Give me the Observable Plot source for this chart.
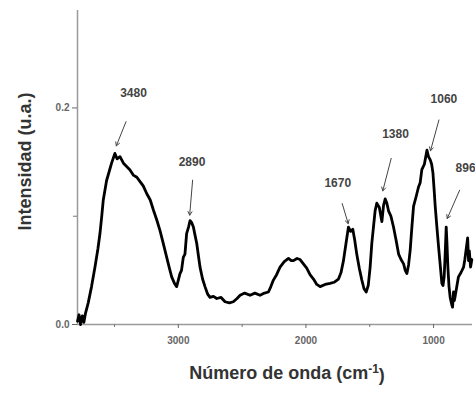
<!DOCTYPE html>
<html><head><meta charset="utf-8">
<script src="https://cdn.jsdelivr.net/npm/d3@7"></script>
<script src="https://cdn.jsdelivr.net/npm/@observablehq/plot@0.6"></script>
<style>body{margin:0;overflow:hidden;background:#fff}</style>
</head><body><div id="chart"></div>
<script>
// Spectrum (wavenumber cm-1, intensity u.a.)
const wavenumber = [3790,3778,3766,3752,3740,3728,3706,3680,3653,3630,3614,3600,3588,3562,3540,3523,3497,3480,3457,3430,3405,3380,3353,3325,3300,3275,3248,3220,3196,3170,3144,3118,3091,3070,3052,3030,3013,3000,2987,2975,2961,2948,2935,2920,2908,2895,2882,2870,2856,2843,2830,2810,2791,2770,2752,2725,2699,2665,2634,2600,2569,2540,2516,2480,2438,2400,2360,2325,2294,2275,2255,2230,2203,2170,2137,2115,2098,2070,2046,2020,1994,1968,1941,1915,1889,1850,1811,1780,1745,1725,1706,1686,1667,1650,1633,1618,1602,1582,1562,1545,1528,1512,1497,1484,1471,1458,1445,1425,1405,1392,1379,1366,1353,1334,1314,1294,1274,1255,1235,1222,1209,1196,1183,1170,1157,1137,1118,1105,1092,1072,1052,1040,1026,1015,1005,996,987,974,961,948,935,926,917,909,901,895,888,879,870,857,851,844,838,831,818,805,785,765,755,744,733,726,720,710,700];
const intensity = [0.003,0.009,0.000,0.008,0.002,0.010,0.020,0.035,0.053,0.070,0.084,0.100,0.115,0.133,0.142,0.149,0.158,0.153,0.155,0.149,0.146,0.143,0.138,0.136,0.132,0.128,0.121,0.115,0.106,0.097,0.087,0.075,0.062,0.052,0.044,0.038,0.035,0.041,0.047,0.050,0.062,0.065,0.084,0.090,0.096,0.094,0.090,0.083,0.075,0.064,0.053,0.042,0.035,0.028,0.025,0.026,0.024,0.025,0.021,0.020,0.021,0.024,0.027,0.029,0.027,0.029,0.027,0.029,0.030,0.035,0.041,0.046,0.053,0.058,0.061,0.059,0.059,0.061,0.060,0.056,0.052,0.046,0.042,0.037,0.035,0.037,0.038,0.039,0.042,0.048,0.059,0.075,0.090,0.086,0.088,0.078,0.065,0.052,0.041,0.033,0.030,0.036,0.053,0.075,0.090,0.105,0.112,0.108,0.095,0.110,0.116,0.112,0.105,0.100,0.090,0.078,0.065,0.060,0.056,0.050,0.047,0.055,0.069,0.090,0.109,0.118,0.127,0.131,0.143,0.148,0.161,0.155,0.152,0.148,0.140,0.125,0.109,0.090,0.072,0.055,0.038,0.036,0.044,0.065,0.090,0.075,0.053,0.035,0.025,0.018,0.016,0.030,0.022,0.026,0.035,0.044,0.048,0.053,0.060,0.070,0.080,0.059,0.068,0.053,0.060];

const xMajorTicks = [3000, 2000, 1000];
const xMinorTicks = [3500, 2500, 1500];
const yMajorTicks = [0, 0.2];
const yMinorTicks = [0.1];

// Peak annotations (data coordinates)
const peakLabels = ["3480", "2890", "1670", "1380", "1060", "896"];
const labelX = [3351, 2893, 1751, 1298, 919, 749];
const labelY = [0.2136, 0.1497, 0.1308, 0.1759, 0.2083, 0.1444];
const arrowX1 = [3410, 2888, 1716, 1332, 958, 796];
const arrowY1 = [0.1873, 0.1333, 0.1117, 0.1534, 0.1889, 0.124];
const arrowX2 = [3486, 2911, 1669, 1398, 1024, 893];
const arrowY2 = [0.165, 0.101, 0.0932, 0.1234, 0.1605, 0.0979];

const yTitle = "Intensidad (u.a.)";
const xTitle = "Número de onda (cm-1)";

const spectrum = wavenumber.map((w, i) => ({w, v: intensity[i]}));
const ann = peakLabels.map((label, i) => ({label, tx: labelX[i], ty: labelY[i], x1: arrowX1[i], y1: arrowY1[i], x2: arrowX2[i], y2: arrowY2[i]}));

const font = "'Liberation Sans', Arial, sans-serif";
const chart = Plot.plot({
  width: 475, height: 394,
  marginLeft: 77, marginRight: 3, marginTop: 10, marginBottom: 70,
  style: {fontFamily: font, background: "white"},
  x: {domain: [3790, 695]},
  y: {domain: [0, 0.29]},
  marks: [
    Plot.ruleY([0], {stroke: "#9a9a9a", strokeWidth: 1.5}),
    Plot.ruleX([3790], {stroke: "#9a9a9a", strokeWidth: 1.5}),
    Plot.axisX(xMajorTicks, {tickSize: 4, tickPadding: 8, tickFormat: d => String(d), fontSize: 10, fontWeight: "bold", color: "#666", label: null}),
    Plot.axisX(xMinorTicks, {tickSize: 3, tickFormat: () => "", color: "#777", label: null}),
    Plot.axisY(yMajorTicks, {tickSize: 5, tickPadding: 3, tickFormat: d3.format(".1f"), fontSize: 10, fontWeight: "bold", color: "#666", label: null}),
    Plot.axisY(yMinorTicks, {tickSize: 4, tickFormat: () => "", color: "#777", label: null}),
    Plot.line(spectrum, {x: "w", y: "v", stroke: "black", strokeWidth: 2.8, strokeLinejoin: "round"}),
    Plot.arrow(ann, {x1: "x1", y1: "y1", x2: "x2", y2: "y2", stroke: "#444", strokeWidth: 1, headLength: 6}),
    Plot.text(ann, {x: "tx", y: "ty", text: "label", fontSize: 12, fontWeight: "bold", fill: "#444"}),
    Plot.text([yTitle], {text: d => d, frameAnchor: "left", textAnchor: "middle", rotate: -90, dx: -52, dy: -6, fontSize: 18, fontWeight: "bold", fill: "#333"}),
    Plot.text([xTitle], {text: d => d, frameAnchor: "bottom", textAnchor: "middle", dx: 12, dy: 54, fontSize: 18, fontWeight: "bold", fill: "#333"})
  ]
});
document.getElementById("chart").appendChild(chart);

// superscript for cm-1
d3.select(chart).selectAll("text").filter(function() { return this.textContent === xTitle; }).each(function() {
  const t = d3.select(this);
  t.text(null);
  t.append("tspan").text("Número de onda (cm");
  t.append("tspan").attr("dy", "-0.45em").attr("font-size", "12").text("-1");
  t.append("tspan").attr("dy", "0.45em").text(")");
});
</script>
</body></html>
